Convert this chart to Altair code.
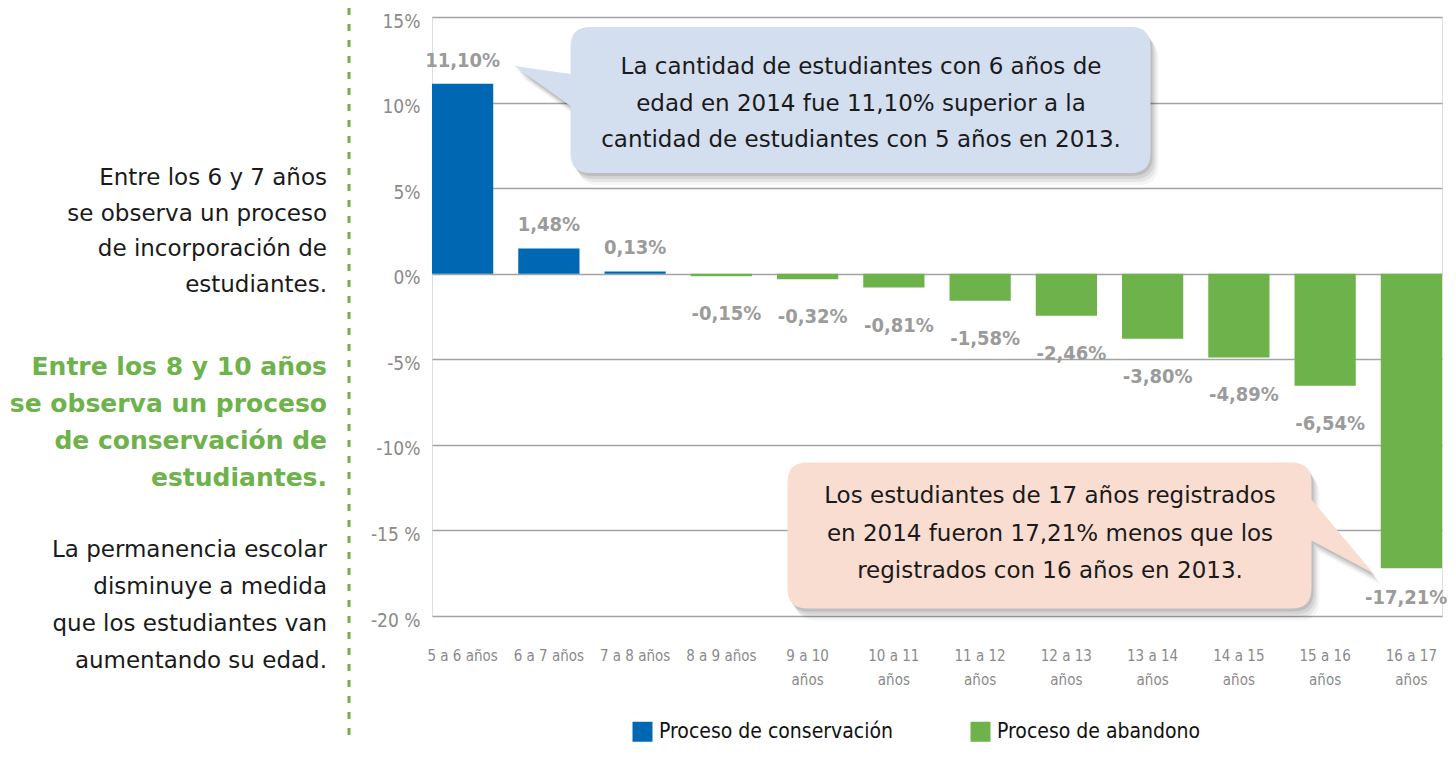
import altair as alt
import pandas as pd

# ---------------- data ----------------
categories = ["5 a 6 años", "6 a 7 años", "7 a 8 años", "8 a 9 años", "9 a 10 años",
              "10 a 11 años", "11 a 12 años", "12 a 13 años", "13 a 14 años",
              "14 a 15 años", "15 a 16 años", "16 a 17 años"]
values = [11.10, 1.48, 0.13, -0.15, -0.32, -0.81, -1.58, -2.46, -3.80, -4.89, -6.54, -17.21]
series_names = ["Proceso de conservación", "Proceso de abandono"]
y_ticks = [15, 10, 5, 0, -5, -10, -15, -20]

callout_blue = ["La cantidad de estudiantes con 6 años de",
                "edad en 2014 fue 11,10% superior a la",
                "cantidad de estudiantes con 5 años en 2013."]
callout_pink = ["Los estudiantes de 17 años registrados",
                "en 2014 fueron 17,21% menos que los",
                "registrados con 16 años en 2013."]
side_p1 = ["Entre los 6 y 7 años", "se observa un proceso", "de incorporación de", "estudiantes."]
side_p2 = ["Entre los 8 y 10 años", "se observa un proceso", "de conservación de", "estudiantes."]
side_p3 = ["La permanencia escolar", "disminuye a medida", "que los estudiantes van", "aumentando su edad."]

# ---------------- styles ----------------
BLUE = "#0067b2"
GREEN = "#6db24b"
NARROW = "DejaVu Sans Condensed, Liberation Sans Narrow, sans-serif"
SANS = "DejaVu Sans"

df = pd.DataFrame({
    "cat": categories,
    "v": values,
    "label": [f"{v:.2f}".replace(".", ",") + "%" for v in values],
    "proceso": [series_names[0] if v > 0 else series_names[1] for v in values],
})
one = pd.DataFrame({"k": [0]})

W, H = 1010, 599
PAD = {"left": 424, "top": 9, "right": 6, "bottom": 128}

x = alt.X("cat:N", sort=categories,
          scale=alt.Scale(paddingInner=0.29, paddingOuter=0),
          axis=alt.Axis(title=None, domain=False, ticks=False, labelAngle=0,
                        labelPadding=32, labelLineHeight=24, labelFont=NARROW,
                        labelFontSize=15, labelColor="#8a8a8a",
                        labelExpr="length(datum.label) > 10 ? [replace(datum.label, ' años', ''), 'años'] : datum.label"))
y = alt.Y("v:Q", scale=alt.Scale(domain=[-20, 15], nice=False, zero=False),
          axis=alt.Axis(title=None, values=y_ticks, domain=False, ticks=False,
                        grid=True, gridColor="#a3a3a3", gridWidth=1.5,
                        labelFont=NARROW, labelFontSize=19, labelColor="#8a8a8a",
                        labelPadding=12, labelOffset=4,
                        labelExpr="datum.value <= -15 ? datum.value + ' %' : datum.value + '%'"))

bars = alt.Chart(df).mark_bar().encode(
    x=x, y=y,
    color=alt.Color("proceso:N",
                    scale=alt.Scale(domain=series_names, range=[BLUE, GREEN]),
                    legend=alt.Legend(orient="none", legendX=200, legendY=704,
                                      direction="horizontal", title=None,
                                      symbolType="square", symbolSize=400,
                                      symbolStrokeWidth=0, labelFont=NARROW,
                                      labelFontSize=21, labelColor="#111111",
                                      labelLimit=0, labelOffset=6, columnPadding=77)),
)

lbl_style = dict(font=NARROW, fontWeight="bold", fontSize=20, color="#9b9b9b", baseline="middle")
xl = alt.X("cat:N", sort=categories)
pos_labels = alt.Chart(df).transform_filter("datum.v > 0").mark_text(
    dy=-23, **lbl_style).encode(x=xl, y="v:Q", text="label:N")
neg_labels = alt.Chart(df).transform_filter("datum.v < 0 && datum.v > -10").mark_text(
    dy=38, dx=5, **lbl_style).encode(x=xl, y="v:Q", text="label:N")
edge_labels = alt.Chart(df).transform_filter("datum.v <= -10").mark_text(
    dy=30, dx=36, align="right", **lbl_style).encode(x=xl, y="v:Q", text="label:N")

# callout shapes (pixel-unit custom path with size 4 -> scale 1)
blue_path = ("M -270 -73 L 270 -73 Q 290 -73 290 -53 L 290 53 Q 290 73 270 73 "
             "L -270 73 Q -290 73 -290 53 L -290 6 L -346 -34 L -290 -26 "
             "L -290 -53 Q -290 -73 -270 -73 Z")
pink_path = ("M -242 -73 L 242 -73 Q 262 -73 262 -53 L 262 -36 L 324 38 L 262 5 "
             "L 262 53 Q 262 73 242 73 L -242 73 Q -262 73 -262 53 L -262 -53 "
             "Q -262 -73 -242 -73 Z")


def callout(path, cx, cy, fill):
    layers = []
    for (ox, oy, op) in [(8, 12, 0.04), (6, 9, 0.06), (4, 6, 0.08), (2, 3, 0.10)]:
        layers.append(alt.Chart(one).mark_point(shape=path, size=4, filled=True,
                                                 color="#000000", opacity=op, strokeWidth=0)
                      .encode(x=alt.value(cx + ox), y=alt.value(cy + oy)))
    layers.append(alt.Chart(one).mark_point(shape=path, size=4, filled=True,
                                             color=fill, opacity=1, strokeWidth=0)
                  .encode(x=alt.value(cx), y=alt.value(cy)))
    return layers


blue_box = callout(blue_path, 428.5, 83, "#d3deef")
pink_box = callout(pink_path, 617.5, 518.5, "#f9ddd0")

# multi-line texts: y is the first line's position
blue_text = alt.Chart(one).mark_text(text=callout_blue, font=SANS, fontSize=23,
                                     lineHeight=36.5, align="center", baseline="middle",
                                     color="#1a1a1a").encode(x=alt.value(429), y=alt.value(50))
pink_text = alt.Chart(one).mark_text(text=callout_pink, font=SANS, fontSize=23,
                                     lineHeight=37.5, align="center", baseline="middle",
                                     color="#1a1a1a").encode(x=alt.value(618), y=alt.value(479))

# side texts
p1 = alt.Chart(one).mark_text(text=side_p1, font=SANS, fontSize=23, lineHeight=35.5,
                              align="right", baseline="middle", color="#1a1a1a"
                              ).encode(x=alt.value(-105), y=alt.value(161))
p2 = alt.Chart(one).mark_text(text=side_p2, font=SANS, fontSize=25, fontWeight="bold",
                              lineHeight=37, align="right", baseline="middle", color=GREEN
                              ).encode(x=alt.value(-105), y=alt.value(350))
p3 = alt.Chart(one).mark_text(text=side_p3, font=SANS, fontSize=23, lineHeight=37,
                              align="right", baseline="middle", color="#1a1a1a"
                              ).encode(x=alt.value(-105), y=alt.value(533))

divider = alt.Chart(one).mark_rule(color=GREEN, strokeWidth=3, strokeDash=[7, 9]).encode(
    x=alt.value(-83), y=alt.value(-9), y2=alt.value(H + PAD["bottom"]))

chart = alt.layer(
    bars, pos_labels, neg_labels, edge_labels, *blue_box, *pink_box, blue_text, pink_text,
    p1, p2, p3, divider
).properties(
    width=W, height=H,
    padding=PAD,
    autosize=alt.AutoSizeParams(type="none"),
).configure_view(stroke=None).configure(background="white")

chart.save("out.html", embed_options={"renderer": "svg", "actions": False})
